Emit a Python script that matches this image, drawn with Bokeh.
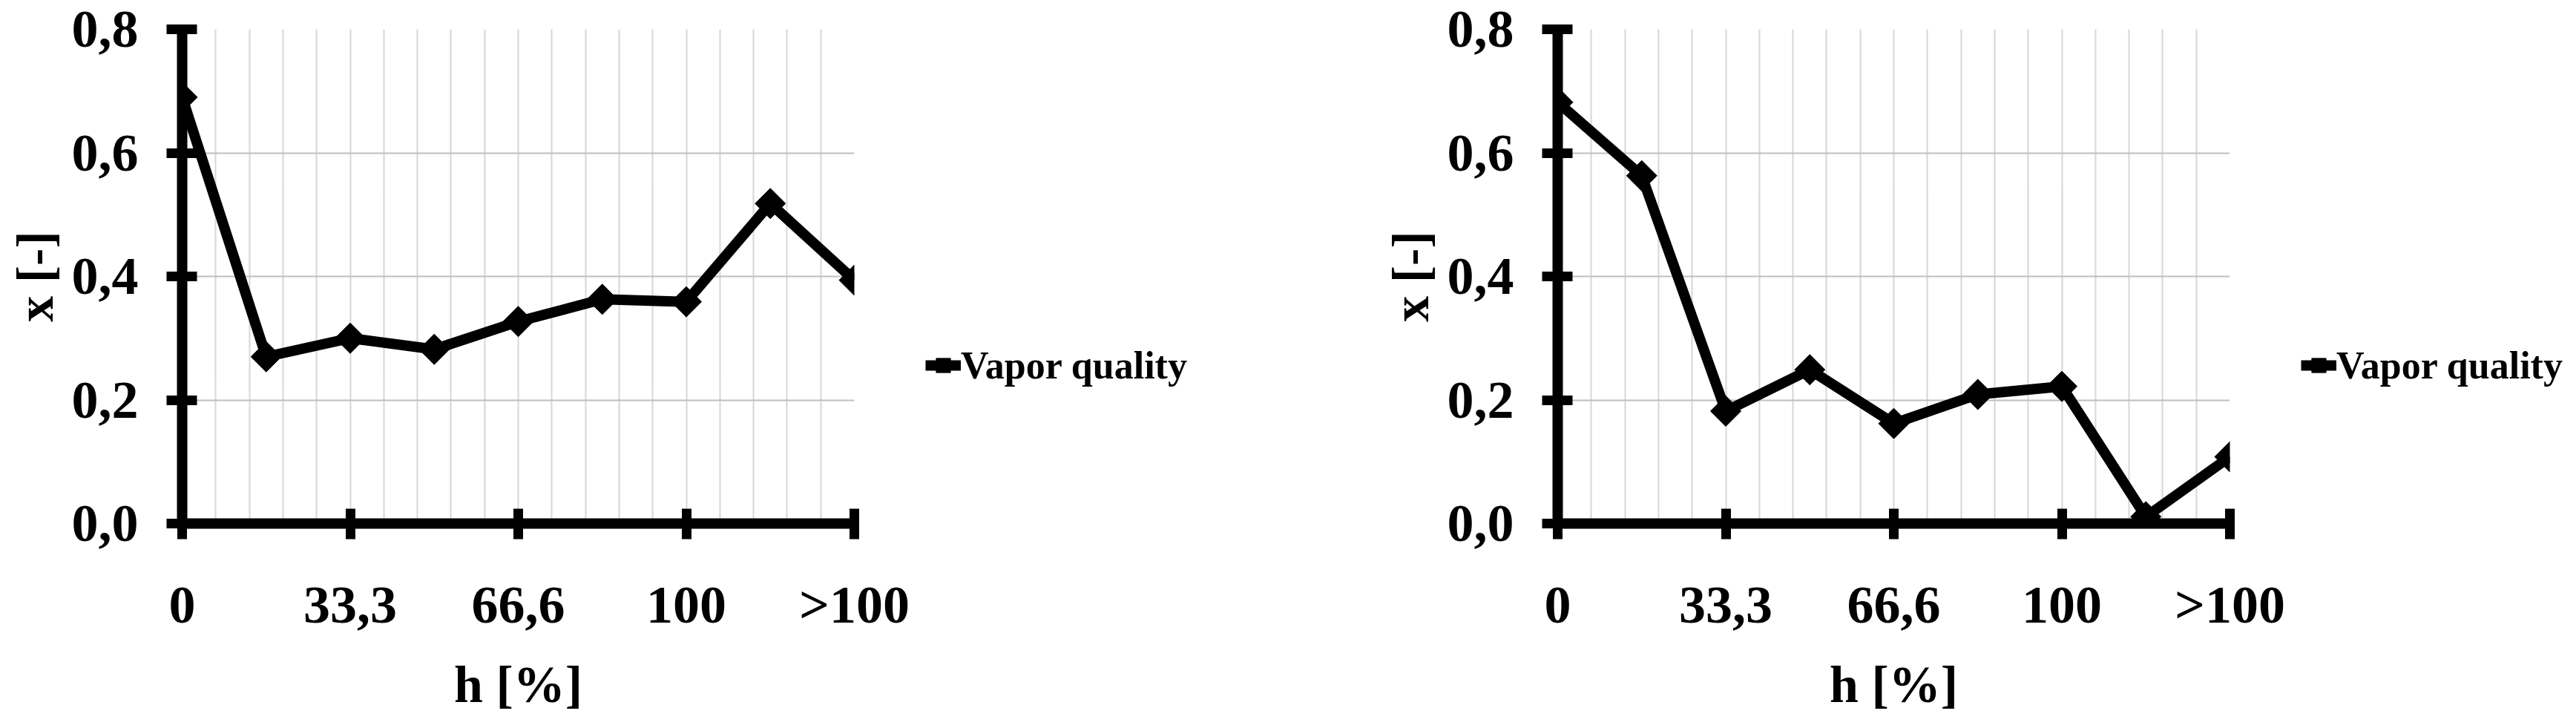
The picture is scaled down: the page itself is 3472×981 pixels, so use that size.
import numpy as np
from bokeh.plotting import figure
from bokeh.layouts import row
from bokeh.models import (FixedTicker, Legend, LegendItem, CustomJSTickFormatter, Range1d)
from bokeh.embed import file_html
from bokeh.resources import INLINE

# ---------------- data ----------------
h_index = [0, 1, 2, 3, 4, 5, 6, 7, 8]
x_tick_positions = [0, 2, 4, 6, 8]
x_tick_labels = ["0", "33,3", "66,6", "100", ">100"]
y_ticks = [0.0, 0.2, 0.4, 0.6, 0.8]

vapor_quality_left = [0.690, 0.270, 0.300, 0.282, 0.327, 0.363, 0.359, 0.518, 0.394]
vapor_quality_right = [0.682, 0.563, 0.182, 0.249, 0.162, 0.209, 0.222, 0.011, 0.108]

series_label = "Vapor quality"
x_axis_title = "h [%]"
y_axis_title = "x [-]"

FONT = "Liberation Serif"


def make_chart(values, border_left, border_right):
    p = figure(output_backend="svg", toolbar_location=None,
               frame_width=906, frame_height=666,
               min_border_left=border_left, min_border_right=border_right,
               min_border_top=39, min_border_bottom=260,
               x_range=Range1d(0, 8), y_range=Range1d(0, 0.8))
    p.outline_line_color = None
    p.background_fill_color = "white"
    p.border_fill_color = "white"

    # grid
    p.ygrid.ticker = FixedTicker(ticks=y_ticks)
    p.ygrid.grid_line_color = "#bfbfbf"
    p.ygrid.grid_line_width = 2
    p.xgrid.ticker = FixedTicker(ticks=list(np.round(np.arange(0, 8.001, 0.4), 3)))
    p.xgrid.grid_line_color = "#d6d6d6"
    p.xgrid.grid_line_width = 2

    # axes
    for ax in (p.xaxis[0], p.yaxis[0]):
        ax.axis_line_width = 14
        ax.axis_line_color = "black"
        ax.major_tick_line_width = 13
        ax.major_tick_line_color = "black"
        ax.major_tick_in = 20
        ax.major_tick_out = 21
        ax.minor_tick_line_color = None
        ax.major_label_text_font = FONT
        ax.major_label_text_font_style = "bold"
        ax.major_label_text_font_size = "72px"
        ax.major_label_text_color = "black"
        ax.axis_label_text_font = FONT
        ax.axis_label_text_font_style = "bold"
        ax.axis_label_text_font_size = "70px"
        ax.axis_label_text_color = "black"

    xa = p.xaxis[0]
    xa.ticker = FixedTicker(ticks=x_tick_positions)
    xa.major_label_overrides = {pos: lab for pos, lab in zip(x_tick_positions, x_tick_labels)}
    xa.major_label_standoff = 48
    xa.axis_label = x_axis_title
    xa.axis_label_standoff = 26

    ya = p.yaxis[0]
    ya.ticker = FixedTicker(ticks=y_ticks)
    ya.formatter = CustomJSTickFormatter(code="return tick.toFixed(1).replace('.', ',');")
    ya.major_label_standoff = 38
    ya.axis_label = y_axis_title
    ya.axis_label_standoff = 8

    line_r = p.line(h_index, values, line_color="black", line_width=14, line_join="round")
    sc_r = p.scatter(h_index, values, marker="square", angle=np.pi / 4, size=29,
                     fill_color="black", line_color="black", line_width=1)

    legend = Legend(items=[LegendItem(label=series_label, renderers=[line_r, sc_r])],
                    location=(96, 178))
    legend.background_fill_alpha = 0
    legend.border_line_color = None
    legend.padding = 0
    legend.margin = 0
    legend.spacing = 0
    legend.glyph_width = 48
    legend.glyph_height = 70
    legend.label_standoff = 0
    legend.label_text_font = FONT
    legend.label_text_font_style = "bold"
    legend.label_text_font_size = "52px"
    legend.label_text_color = "black"
    p.add_layout(legend, "right")
    return p


p1 = make_chart(vapor_quality_left, 245, 0)
p2 = make_chart(vapor_quality_right, 358, 0)
# the legend side panel is measured wider than drawn; pull the second chart back into place
p1.styles = {"margin-right": "-215px"}

layout = row(p1, p2)
open("out.html", "w").write(file_html(layout, INLINE))
